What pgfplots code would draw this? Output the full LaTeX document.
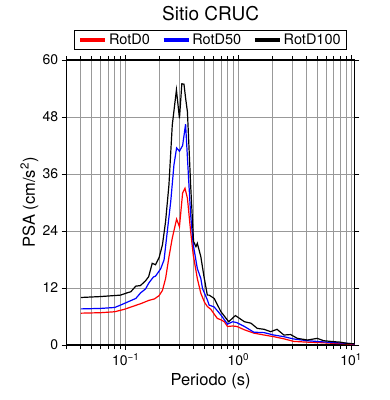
\documentclass[border=0pt]{standalone}
\usepackage{fontspec}
\setmainfont{TeX Gyre Heros}
\usepackage{pgfplots}
\pgfplotsset{compat=1.18}
\begin{document}
\begin{tikzpicture}
\useasboundingbox (-66.7pt,-55pt) rectangle (323.3pt,345pt);
\begin{axis}[
  name=ax,
  at={(0pt,0pt)}, anchor=south west,
  scale only axis,
  width=287.8pt, height=285pt,
  xmode=log,
  xmin=0.03, xmax=10.7,
  ymin=0, ymax=60,
  ytick={0,12,24,36,48,60},
  xtick={0.1,1,10},
  xticklabels={10\textsuperscript{−1},10\textsuperscript{0},10\textsuperscript{1}},
  minor xtick={0.03,0.04,0.05,0.06,0.07,0.08,0.09,0.2,0.3,0.4,0.5,0.6,0.7,0.8,0.9,2,3,4,5,6,7,8,9},
  xmajorgrids, xminorgrids, ymajorgrids,
  grid style={draw=black!40, line width=0.8pt},
  minor grid style={draw=black!40, line width=0.8pt},
  axis line style={line width=1.4pt},
  tick align=outside,
  tick pos=both,
  major tick length=5pt,
  minor tick length=4pt,
  tick style={black, line width=0.8pt},
  /pgf/number format/assume math mode=true,
  tick label style={font=\fontsize{14}{16}\selectfont},
  legend columns=3,
  legend style={at={(axis description cs:0.5,1)}, anchor=south, yshift=10pt,
    draw=black, line width=1.4pt, font=\fontsize{14.5}{16}\selectfont,
    inner xsep=4pt, inner ysep=1.5pt,
    /tikz/every even column/.append style={column sep=10pt}},
  legend image code/.code={\draw[#1, line width=3.5pt] (0pt,0pt) -- (25pt,0pt);},
]
\addplot[red, line width=1.2pt] coordinates {
(0.04,6.7) (0.06,6.8) (0.08,7.0) (0.097,7.5) (0.118,8.2) (0.136,8.7) (0.161,9.4)
(0.18,9.7) (0.198,10.4) (0.212,11.5) (0.226,14.0) (0.242,18.5) (0.259,22.5)
(0.283,26.5) (0.30,24.9) (0.32,32.0) (0.336,33.0) (0.353,30.9) (0.377,23.9)
(0.398,18.9) (0.432,14.0) (0.464,10.9) (0.50,9.0) (0.53,8.1) (0.57,7.5)
(0.61,6.5) (0.65,5.6) (0.70,5.3) (0.75,4.9) (0.80,3.9) (0.89,4.0) (0.97,3.9)
(1.13,3.2) (1.37,2.5) (1.69,2.1) (2.06,1.75) (2.53,1.3) (3.1,0.75) (4.1,0.6)
(5.3,0.5) (7.0,0.35) (9.0,0.25) (10.7,0.1)
};
\addlegendentry{RotD0}
\addplot[blue, line width=1.2pt] coordinates {
(0.04,7.6) (0.06,7.7) (0.08,7.9) (0.09,8.4) (0.11,9.3) (0.123,9.8) (0.136,11.0)
(0.15,11.8) (0.161,13.1) (0.176,14.3) (0.184,14.5) (0.204,16.0) (0.219,17.9)
(0.234,23.9) (0.251,30.2) (0.268,37.9) (0.283,41.5) (0.30,40.8) (0.32,42.0)
(0.34,46.5) (0.36,35.8) (0.377,27.4) (0.398,21.1) (0.432,16.1) (0.464,14.0)
(0.48,11.9) (0.53,9.5) (0.55,8.4) (0.61,8.0) (0.70,6.3) (0.80,4.4) (0.89,4.9)
(0.97,4.7) (1.13,3.9) (1.37,2.7) (1.69,2.6) (2.06,2.1) (2.53,1.75) (3.1,1.26)
(4.1,0.9) (5.3,0.7) (7.0,0.5) (9.2,0.35) (10.7,0.2)
};
\addlegendentry{RotD50}
\addplot[black, line width=1.2pt] coordinates {
(0.04,10.0) (0.06,10.2) (0.09,10.5) (0.1035,11.0) (0.111,11.2) (0.123,12.4)
(0.135,12.5) (0.15,13.5) (0.16,14.4) (0.172,17.2) (0.184,16.9) (0.198,18.4)
(0.212,21.1) (0.226,26.0) (0.242,33.7) (0.259,46.3) (0.282,53.7) (0.30,47.7)
(0.315,55.0) (0.329,54.9) (0.34,52.0) (0.353,49.1) (0.377,33.7) (0.40,21.8)
(0.42,20.7) (0.432,21.4) (0.464,18.6) (0.495,14.4) (0.53,10.5) (0.55,10.5)
(0.61,9.8) (0.70,7.0) (0.82,4.9) (0.94,6.2) (1.13,4.9) (1.29,4.6) (1.47,3.5)
(1.69,3.3) (1.93,2.8) (2.2,3.3) (2.53,2.1) (2.9,2.2) (3.33,1.4) (4.1,1.05)
(5.0,1.4) (5.7,0.9) (7.0,0.7) (8.0,0.6) (9.2,0.35) (10.7,0.25)
};
\addlegendentry{RotD100}
\end{axis}
\node[anchor=base, inner sep=0pt, font=\fontsize{19}{21}\selectfont] at ([yshift=40pt]ax.north) {Sitio CRUC};
\node[anchor=base, inner sep=0pt, font=\fontsize{16.5}{18}\selectfont] at ([yshift=-40.5pt]ax.south) {Periodo (s)};
\node[anchor=base, rotate=90, inner sep=0pt, font=\fontsize{16.5}{18}\selectfont] at ([xshift=-31.7pt]ax.west) {PSA (cm/s\textsuperscript{2})};
\end{tikzpicture}
\end{document}
